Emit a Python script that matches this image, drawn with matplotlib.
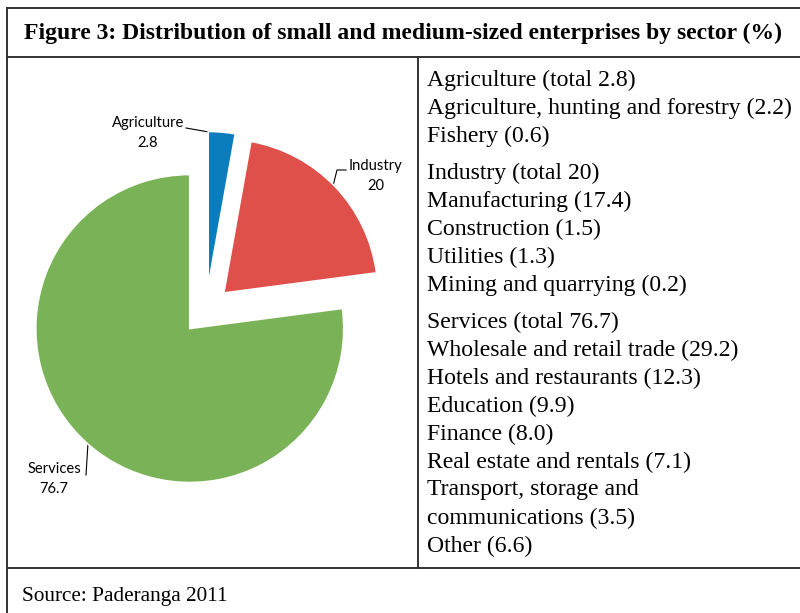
import matplotlib
matplotlib.use('Agg')
import matplotlib.pyplot as plt

# data
sectors = ['Agriculture', 'Industry', 'Services']
shares = [2.8, 20, 76.7]
colors = ['#0b7dbd', '#df504b', '#7ab357']

ag_lines = ['Agriculture (total 2.8)', 'Agriculture, hunting and forestry (2.2)', 'Fishery (0.6)']
ind_lines = ['Industry (total 20)', 'Manufacturing (17.4)', 'Construction (1.5)',
             'Utilities (1.3)', 'Mining and quarrying (0.2)']
serv_lines = ['Services (total 76.7)', 'Wholesale and retail trade (29.2)',
              'Hotels and restaurants (12.3)', 'Education (9.9)', 'Finance (8.0)',
              'Real estate and rentals (7.1)', 'Transport, storage and',
              'communications (3.5)', 'Other (6.6)']

W, H = 800, 613
fig = plt.figure(figsize=(W / 100, H / 100), dpi=100)

# overlay in pixel coords for frame + text
ov = fig.add_axes([0, 0, 1, 1])
ov.set_xlim(0, W)
ov.set_ylim(H, 0)
ov.axis('off')

lc = '#333333'
lw = 1.4
ov.plot([7, W], [8, 8], color=lc, lw=lw)
ov.plot([7, 7], [8, H], color=lc, lw=lw)
ov.plot([7, W], [57, 57], color=lc, lw=lw)
ov.plot([7, W], [568, 568], color=lc, lw=lw)
ov.plot([418, 418], [57, 568], color=lc, lw=lw)

serif = 'Liberation Serif'
ov.text(403, 33, 'Figure 3: Distribution of small and medium-sized enterprises by sector (%)',
        family=serif, weight='bold', fontsize=17, ha='center', va='center')
ov.text(22, 597, 'Source: Paderanga 2011', family=serif, fontsize=15.3, ha='left', va='center')

# right column text
y = 80
for group in (ag_lines, ind_lines, serv_lines):
    for line in group:
        ov.text(427, y, line, family=serif, fontsize=17.1, ha='left', va='center')
        y += 28
    y += 9

# pie, centre (206, 310) px, radius 154 px
cx, cy, R = 206, 310, 154
x0, x1, y0, y1 = 0, 412, 57, 569
pa = fig.add_axes([x0 / W, 1 - y1 / H, (x1 - x0) / W, (y1 - y0) / H])
pa.pie(shares, colors=colors, startangle=90, counterclock=False,
       explode=[0.16, 0.16, 0.16],
       wedgeprops=dict(edgecolor='white', linewidth=1.2))
pa.set_xlim((x0 - cx) / R, (x1 - cx) / R)
pa.set_ylim((cy - y1) / R, (cy - y0) / R)
pa.axis('off')

# slice labels
sans = 'Lato'
lab = dict(family=sans, fontsize=10.6, ha='center', va='center', linespacing=1.6)
ov.text(148, 133, 'Agriculture\n2.8', **lab)
ov.plot([186, 220], [128, 134], color='black', lw=0.8)
ov.text(376, 176, 'Industry\n20', **lab)
ov.plot([346, 337, 332], [170, 170, 190], color='black', lw=0.8)
ov.text(54, 479, 'Services\n76.7', **lab)
ov.plot([86, 88], [475, 443], color='black', lw=0.8)

fig.savefig('out.png', dpi=100)
